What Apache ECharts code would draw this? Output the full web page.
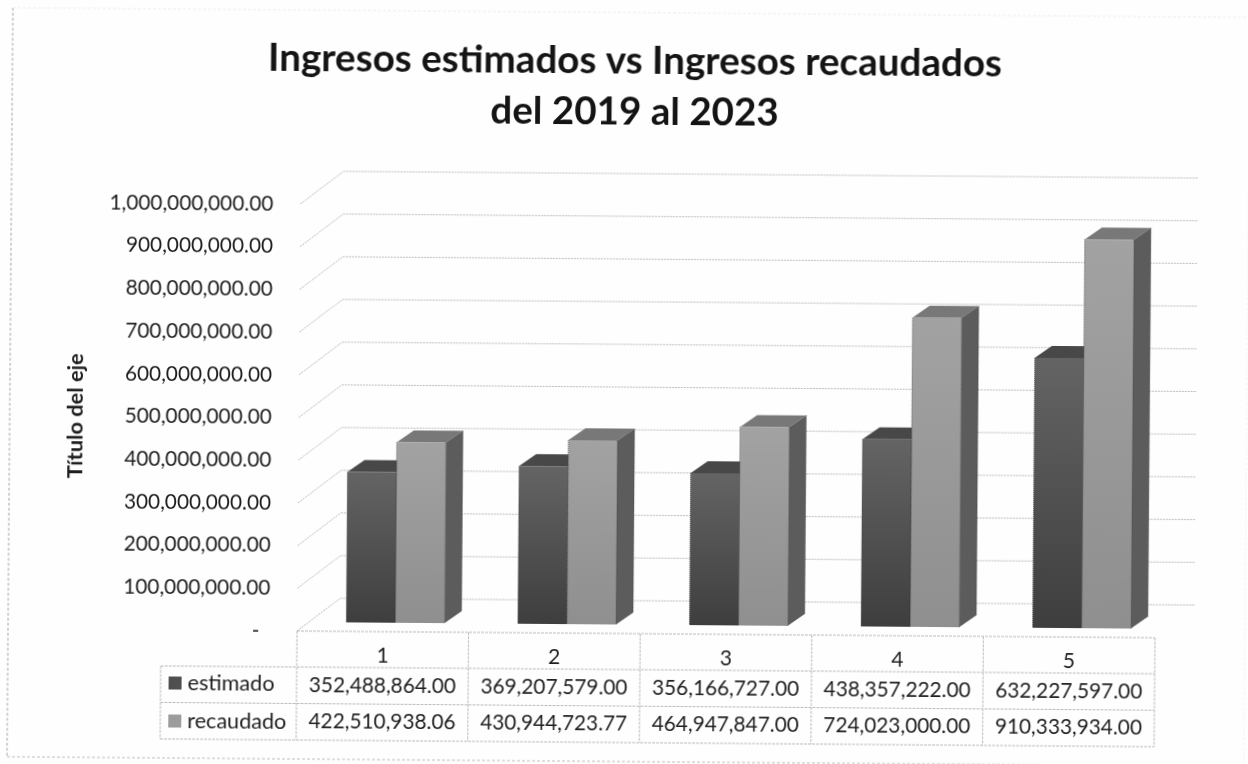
<!DOCTYPE html>
<html>
<head>
<meta charset="utf-8">
<style>
  html, body { margin: 0; padding: 0; background: #fefefe; overflow: hidden; }
  /* the scan sits slightly tilted, so the whole chart is turned with it */
  #chart { width: 1248px; height: 764px; transform: rotate(0.45deg); transform-origin: 297px 631px; }
</style>
<script src="https://cdn.jsdelivr.net/npm/echarts@6/dist/echarts.min.js"></script>
</head>
<body>
<div id="chart"></div>
<script>
const categories = ['1', '2', '3', '4', '5']
const estimado = [352488864.00, 369207579.00, 356166727.00, 438357222.00, 632227597.00]
const recaudado = [422510938.06, 430944723.77, 464947847.00, 724023000.00, 910333934.00]
const ticks = [0, 100000000, 200000000, 300000000, 400000000, 500000000, 600000000, 700000000, 800000000, 900000000, 1000000000]

const FONT = 'Lato, "Open Sans", sans-serif'
const TEXT = '#1e1e1e'
const LINE = '#bcbcbc'

const fmt = v => v.toLocaleString('en-US', { minimumFractionDigits: 2, maximumFractionDigits: 2 })

// depth of the back wall and of one bar, in pixels
const WALL_DX = 43
const WALL_DY = 33
const WALL_W = 855
const BAR_DX = 17
const BAR_DY = 12
const FLOOR_DX = 12.5
const FLOOR_DY = 9

const chart = echarts.init(document.getElementById('chart'))

const renderGrid = (params, api) => {
  const p = api.coord([0, api.value(0)])
  const x = p[0] - api.size([1, 0])[0] / 2
  return {
    type: 'polyline',
    silent: true,
    shape: {
      points: [[x, p[1]], [x + WALL_DX, p[1] - WALL_DY], [x + WALL_DX + WALL_W, p[1] - WALL_DY]]
    },
    style: { stroke: LINE, lineWidth: 1, lineDash: [2, 1], fill: null }
  }
}

const barRenderer = (slot, colors) => (params, api) => {
  const top = api.coord([api.value(0), api.value(1)])
  const base = api.coord([api.value(0), 0])
  const w = api.size([1, 0])[0] * 0.286
  const x0 = top[0] + FLOOR_DX + (slot - 1) * w
  const x1 = x0 + w
  const y0 = top[1] - FLOOR_DY
  const y1 = base[1] - FLOOR_DY
  const edge = { stroke: '#333333', lineWidth: 0.7, lineDash: [1, 1] }
  return {
    type: 'group',
    children: [
      {
        type: 'polygon',
        shape: { points: [[x0, y0], [x0 + BAR_DX, y0 - BAR_DY], [x1 + BAR_DX, y0 - BAR_DY], [x1, y0]] },
        style: { fill: colors.top }
      },
      {
        type: 'polygon',
        shape: { points: [[x1, y0], [x1 + BAR_DX, y0 - BAR_DY], [x1 + BAR_DX, y1 - BAR_DY], [x1, y1]] },
        style: { fill: colors.side }
      },
      {
        type: 'rect',
        shape: { x: x0, y: y0, width: w, height: y1 - y0 },
        style: {
          fill: new echarts.graphic.LinearGradient(0, 0, 0, 1, [
            { offset: 0, color: colors.front[0] },
            { offset: 1, color: colors.front[1] }
          ])
        }
      },
      { type: 'line', shape: { x1: x0, y1: y0, x2: x0, y2: y1 }, style: edge },
      { type: 'line', shape: { x1: x1, y1: y0, x2: x1, y2: y1 }, style: edge },
      { type: 'line', shape: { x1: x1 + BAR_DX, y1: y0 - BAR_DY, x2: x1 + BAR_DX, y2: y1 - BAR_DY }, style: edge }
    ]
  }
}

// table under the plot
const tableX = [161, 297, 468.6, 640.2, 811.8, 983.4, 1155]
const tableY = [631, 667, 703.5, 740]
const tableGraphics = []
const tableLine = (x1, y1, x2, y2) => tableGraphics.push({
  type: 'line',
  silent: true,
  shape: { x1, y1, x2, y2 },
  style: { stroke: LINE, lineWidth: 1, lineDash: [3, 1] }
})
tableY.forEach((y, i) => tableLine(i === 0 ? tableX[1] : tableX[0], y, tableX[6], y))
tableX.forEach((x, i) => tableLine(x, i === 0 ? tableY[1] : tableY[0], x, tableY[3]))
;[estimado, recaudado].forEach((values, r) => {
  values.forEach((v, c) => {
    tableGraphics.push({
      type: 'text',
      silent: true,
      x: (tableX[c + 1] + tableX[c + 2]) / 2,
      y: (tableY[r + 1] + tableY[r + 2]) / 2,
      style: { text: fmt(v), font: '20.8px ' + FONT, fill: TEXT, align: 'center', verticalAlign: 'middle' }
    })
  })
})
// faint frame of the printed chart
const frame = [
  [8, 10, 8, 759, '#a8a8a8'],
  [8, 759, 1245, 759, '#c0c0c0'],
  [8, 10, 1245, 10, '#ededed'],
  [1245, 10, 1245, 759, '#f3f3f3']
]
frame.forEach(f => tableGraphics.push({
  type: 'line',
  silent: true,
  shape: { x1: f[0], y1: f[1], x2: f[2], y2: f[3] },
  style: { stroke: f[4], lineWidth: 1, lineDash: [3, 2] }
}))

chart.setOption({
  backgroundColor: '#fefefe',
  animation: false,
  title: {
    text: 'Ingresos estimados vs Ingresos recaudados\ndel 2019 al 2023',
    left: 625.5,
    top: 28,
    textAlign: 'center',
    textStyle: { fontFamily: FONT, fontSize: 38.6, fontWeight: 'bold', color: '#141414', lineHeight: 51 }
  },
  legend: {
    orient: 'vertical',
    left: 164,
    top: 668,
    itemWidth: 13,
    itemHeight: 13,
    itemGap: 16,
    icon: 'rect',
    selectedMode: false,
    data: ['estimado', 'recaudado'],
    textStyle: { fontFamily: FONT, fontSize: 21.6, color: TEXT, padding: [0, 0, 0, 1] }
  },
  grid: { left: 297, top: 204, width: 858, height: 427 },
  xAxis: {
    type: 'category',
    data: categories,
    axisLine: { show: false },
    axisTick: { show: false },
    axisLabel: { margin: 14, fontFamily: FONT, fontSize: 21, color: TEXT }
  },
  yAxis: {
    type: 'value',
    min: 0,
    max: 1000000000,
    interval: 100000000,
    name: 'Título del eje',
    nameLocation: 'middle',
    nameGap: 212,
    nameTextStyle: { fontFamily: FONT, fontSize: 21.8, fontWeight: 'bold', color: TEXT },
    axisLine: { show: false },
    axisTick: { show: false },
    splitLine: { show: false },
    axisLabel: {
      margin: 27,
      fontFamily: FONT,
      fontSize: 20.8,
      color: TEXT,
      formatter: v => (v === 0 ? '-  ' : fmt(v))
    }
  },
  graphic: tableGraphics,
  series: [
    {
      type: 'custom',
      silent: true,
      data: ticks.map(v => [v]),
      encode: { y: 0 },
      renderItem: renderGrid
    },
    {
      name: 'estimado',
      type: 'custom',
      itemStyle: { color: '#4f4f4f' },
      data: estimado.map((v, i) => [i, v]),
      encode: { x: 0, y: 1 },
      renderItem: barRenderer(0, { top: '#484848', side: '#555555', front: ['#646464', '#3e3e3e'] })
    },
    {
      name: 'recaudado',
      type: 'custom',
      itemStyle: { color: '#9c9c9c' },
      data: recaudado.map((v, i) => [i, v]),
      encode: { x: 0, y: 1 },
      renderItem: barRenderer(1, { top: '#787878', side: '#5c5c5c', front: ['#a2a2a2', '#8f8f8f'] })
    }
  ]
})

window.addEventListener('resize', () => chart.resize())
</script>
</body>
</html>
